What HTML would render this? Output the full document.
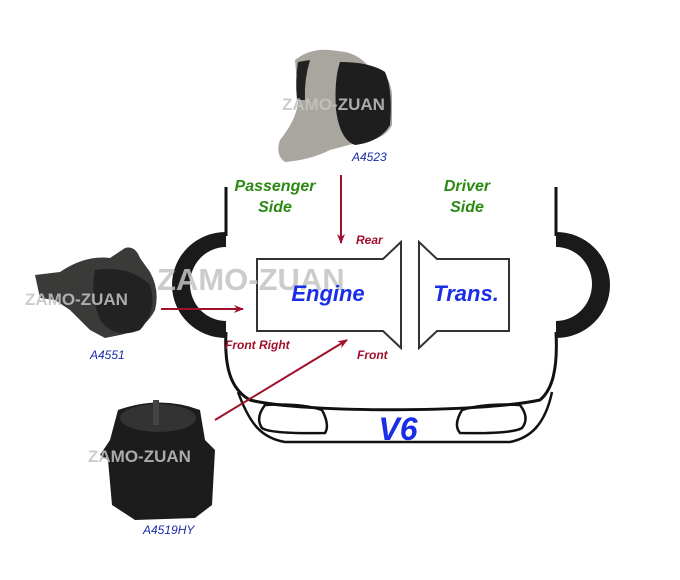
<!DOCTYPE html>
<html><head><meta charset="utf-8"><style>
html,body{margin:0;padding:0;background:#fff;}
svg{display:block}
text{font-family:"Liberation Sans",sans-serif}
.b{font-weight:bold;font-style:italic}
.n{font-weight:normal;font-style:italic}
</style></head><body>
<svg width="680" height="580" viewBox="0 0 680 580" xmlns="http://www.w3.org/2000/svg">
<defs>
<marker id="ah" markerWidth="10" markerHeight="8" refX="9" refY="4" orient="auto" markerUnits="userSpaceOnUse"><path d="M0,0 L10,4 L0,8 L3,4Z" fill="#a0102a"/></marker>
</defs>
<!-- top photo A4523 -->
<path d="M295,60 Q310,48 330,50 L345,52 Q360,55 370,68 Q390,70 392,95 L392,125 Q385,140 360,142 L330,150 Q310,160 285,162 Q275,155 280,140 Q300,115 298,95 Z" fill="#a8a69e"/>
<path d="M340,62 Q370,62 385,72 Q393,90 390,125 Q380,142 355,145 Q340,140 336,110 Q334,80 340,62Z" fill="#1e1e1e"/>
<path d="M298,62 Q295,80 297,100 L305,100 Q304,80 310,60Z" fill="#222"/>
<!-- left photo A4551 -->
<path d="M35,275 L60,272 Q85,255 110,258 L125,248 Q135,245 140,258 L150,272 Q160,290 155,310 Q145,330 120,335 L105,338 L90,330 L70,310 L55,300 L40,298Z" fill="#3a3a38"/>
<path d="M95,270 Q130,265 150,285 Q158,310 140,330 Q115,340 100,320 Q90,295 95,270Z" fill="#222"/>
<!-- bottom photo A4519HY -->
<path d="M118,410 Q160,395 200,410 L205,440 L215,450 L212,505 L195,518 L135,520 L112,505 L108,460 L100,455 L110,440Z" fill="#1c1c1c"/>
<ellipse cx="158" cy="418" rx="38" ry="14" fill="#333"/>
<rect x="153" y="400" width="6" height="25" fill="#444"/>
<!-- body -->
<g fill="none" stroke="#111" stroke-width="3">
<path d="M226,187 L226,236"/>
<path d="M556,187 L556,236"/>
<path d="M226,332 C224,370 232,390 250,400 C300,413 480,413 540,400 C552,390 558,370 556,332"/>
<path d="M238,392 C250,425 262,438 285,442 L510,442 C530,438 545,425 552,392" stroke-width="2.5"/>
<path d="M265,405 Q255,418 262,428 Q270,434 325,433 Q330,425 322,410 Q300,403 265,405Z" stroke-width="2.5"/>
<path d="M520,405 Q530,418 522,428 Q512,434 460,433 Q453,425 462,410 Q485,403 520,405Z" stroke-width="2.5"/>
</g>
<path d="M226,232 A54,53 0 0 0 226,338 L226,321 A36,37 0 0 1 226,247Z" fill="#1a1a1a"/>
<path d="M556,232 A54,53 0 0 1 556,338 L556,321 A36,37 0 0 0 556,247Z" fill="#1a1a1a"/>
<!-- engine / trans -->
<g fill="#fff" stroke="#333" stroke-width="2">
<path d="M257,259 L383,259 L401,242 L401,348 L383,331 L257,331Z"/>
<path d="M419,242 L437,259 L509,259 L509,331 L437,331 L419,348Z"/>
</g>
<!-- watermarks -->
<g fill="#c4c4c4" opacity="0.85" style="font-weight:bold">
<text x="282" y="110" font-size="17">ZAMO-ZUAN</text>
<text x="157" y="290" font-size="31">ZAMO-ZUAN</text>
<text x="25" y="305" font-size="17">ZAMO-ZUAN</text>
<text x="88" y="462" font-size="17">ZAMO-ZUAN</text>
</g>
<text class="b" x="328" y="301" font-size="22" fill="#1a2ee6" text-anchor="middle">Engine</text>
<text class="b" x="466" y="301" font-size="22" fill="#1a2ee6" text-anchor="middle">Trans.</text>
<text class="b" x="398" y="440" font-size="32" fill="#1a2ee6" text-anchor="middle">V6</text>
<g fill="#2a8a12" font-size="16" text-anchor="middle" class="b">
<text class="b" x="275" y="191">Passenger</text><text class="b" x="275" y="212">Side</text>
<text class="b" x="467" y="191">Driver</text><text class="b" x="467" y="212">Side</text>
</g>
<g fill="#a0102a" font-size="12">
<text class="b" x="356" y="244">Rear</text>
<text class="b" x="357" y="359">Front</text>
<text class="b" x="225" y="349">Front Right</text>
</g>
<g stroke="#a0102a" stroke-width="2" marker-end="url(#ah)">
<line x1="341" y1="175" x2="341" y2="243"/>
<line x1="161" y1="309" x2="243" y2="309"/>
<line x1="215" y1="420" x2="347" y2="340"/>
</g>
<g fill="#1a2aa8" font-size="12">
<text class="n" x="352" y="161">A4523</text>
<text class="n" x="90" y="359">A4551</text>
<text class="n" x="143" y="534">A4519HY</text>
</g>
</svg>
</body></html>
